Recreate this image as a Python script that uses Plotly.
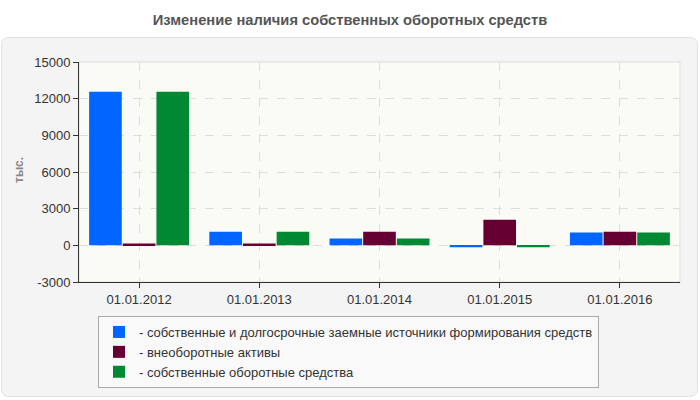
import plotly.graph_objects as go

categories = ["01.01.2012", "01.01.2013", "01.01.2014", "01.01.2015", "01.01.2016"]
series_names = [
    "- собственные и долгосрочные заемные источники формирования средств",
    "- внеоборотные активы",
    "- собственные оборотные средства",
]
sources = [12560, 1120, 550, -160, 1040]
noncurrent = [140, 140, 1120, 2100, 1120]
working = [12560, 1120, 550, -160, 1040]
colors = ["#0066ff", "#660033", "#008833"]
y_ticks = [-3000, 0, 3000, 6000, 9000, 12000, 15000]

FONT = "Liberation Sans, Arial, sans-serif"
W, H = 700, 400
L, R, T, B = 79, 20, 62, 118
pw, ph = W - L - R, H - T - B


def px(x):
    return (x - L) / pw


def py(y):
    return (H - B - y) / ph


fig = go.Figure()
for name, vals, c in zip(series_names, [sources, noncurrent, working], colors):
    fig.add_trace(go.Bar(x=categories, y=vals, name=name, marker=dict(color=c, line=dict(width=0))))


def rounded(x0, y0, x1, y1, r):
    rx, ry = r / pw, r / ph
    X0, X1, Y0, Y1 = px(x0), px(x1), py(y0), py(y1)
    return (f"M {X0+rx},{Y0} L {X1-rx},{Y0} Q {X1},{Y0} {X1},{Y0-ry} "
            f"L {X1},{Y1+ry} Q {X1},{Y1} {X1-rx},{Y1} L {X0+rx},{Y1} "
            f"Q {X0},{Y1} {X0},{Y1+ry} L {X0},{Y0-ry} Q {X0},{Y0} {X0+rx},{Y0} Z")


shapes = [
    dict(type="path", xref="paper", yref="paper", path=rounded(1.5, 37.5, 697.5, 396.5, 8),
         fillcolor="#f4f4f4", line=dict(color="#e2e2e2", width=1), layer="below"),
    dict(type="rect", xref="paper", yref="paper", x0=0, x1=1, y0=0, y1=1,
         fillcolor="#fbfbf6", line=dict(color="#dddddd", width=1), layer="below"),
]

fig.update_layout(
    width=W, height=H,
    margin=dict(l=L, r=R, t=T, b=B),
    paper_bgcolor="white",
    plot_bgcolor="rgba(0,0,0,0)",
    font=dict(family=FONT, size=13, color="#333333"),
    title=dict(text="<b>Изменение наличия собственных оборотных средств</b>",
               x=0.5, xanchor="center", y=1 - 20 / H, yanchor="middle",
               font=dict(family=FONT, size=14.7, color="#555555")),
    barmode="group", bargap=0.16, bargroupgap=0.03,
    shapes=shapes,
    xaxis=dict(type="category", showline=True, linecolor="#333333", linewidth=1,
               ticks="outside", ticklen=5, tickcolor="#333333",
               showgrid=True, gridcolor="#dddddd", griddash="dash", gridwidth=1,
               tickfont=dict(size=13, color="#333333"), range=[-0.5, 4.5]),
    yaxis=dict(range=[-3000, 15000], tickmode="array", tickvals=y_ticks,
               ticktext=[str(v) for v in y_ticks],
               showline=True, linecolor="#333333", linewidth=1,
               ticks="outside", ticklen=5, tickcolor="#333333",
               showgrid=True, gridcolor="#dddddd", griddash="dash", gridwidth=1,
               zeroline=False, tickfont=dict(size=13, color="#333333")),
    legend=dict(x=px(98), y=py(316), xanchor="left", yanchor="top",
                bgcolor="#f9f9f9", bordercolor="#aaaaaa", borderwidth=1,
                font=dict(size=13, color="#333333"), tracegroupgap=0,
                itemwidth=30),
    annotations=[dict(text="<b>тыс.</b>", xref="paper", yref="paper", x=px(19), y=py(170),
                      xanchor="center", yanchor="middle",
                      textangle=-90, showarrow=False, font=dict(size=12, color="#888888"))],
)

fig.write_html("out.html")
